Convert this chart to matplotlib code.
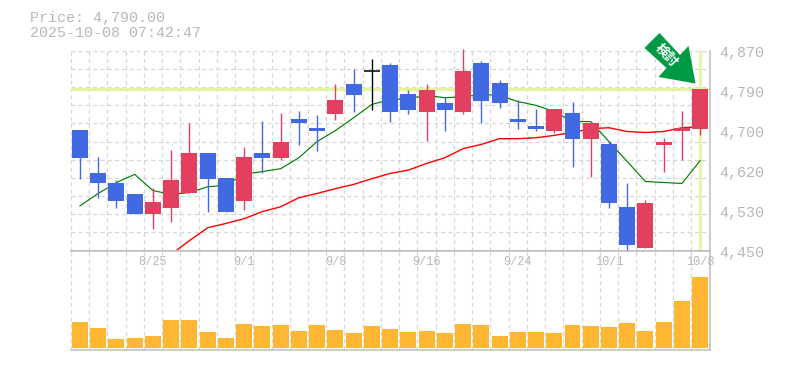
import numpy as np
import matplotlib
matplotlib.use("Agg")
import matplotlib.pyplot as plt
from matplotlib.patches import Polygon
from matplotlib.transforms import Affine2D

W, H = 785, 370

# daily prices
opens = [4704, 4614, 4593, 4568, 4526, 4540, 4572, 4654, 4603, 4555, 4654, 4645, 4727, 4708, 4736,
         4799, 4828, 4839, 4778, 4742, 4759, 4742, 4843, 4803, 4727, 4712, 4702, 4738, 4685, 4673,
         4542, 4456, 4671, 4702, 4706]
closes = [4645, 4591, 4555, 4526, 4553, 4599, 4654, 4601, 4532, 4647, 4645, 4679, 4717, 4702, 4767,
          4776, 4828, 4742, 4746, 4788, 4746, 4828, 4765, 4761, 4721, 4706, 4748, 4685, 4719, 4551,
          4461, 4549, 4679, 4708, 4790]
highs = [4704, 4647, 4599, 4568, 4582, 4662, 4719, 4654, 4603, 4668, 4723, 4738, 4744, 4734, 4799,
         4832, 4853, 4843, 4788, 4799, 4773, 4874, 4849, 4809, 4767, 4748, 4748, 4763, 4719, 4679,
         4593, 4557, 4687, 4744, 4790]
lows = [4601, 4561, 4540, 4526, 4496, 4511, 4572, 4532, 4532, 4536, 4612, 4641, 4671, 4660, 4725,
        4742, 4746, 4721, 4736, 4681, 4702, 4736, 4717, 4750, 4706, 4702, 4696, 4626, 4605, 4540,
        4450, 4456, 4616, 4641, 4692]
ma_short = [4544, 4570, 4593, 4610, 4576, 4568, 4572, 4584, 4587, 4610, 4616, 4622, 4645, 4679, 4702,
            4729, 4757, 4767, 4769, 4776, 4771, 4773, 4778, 4776, 4763, 4755, 4742, 4721, 4721, 4679,
            4637, 4595, 4593, 4591, 4639]
ma_long = [4442, 4471, 4498, 4507, 4517, 4532, 4542, 4561, 4570, 4580, 4589, 4601, 4612, 4619, 4633,
           4645, 4664, 4673, 4685, 4685, 4687, 4692, 4698, 4706, 4708, 4700, 4698, 4700, 4708, 4710]
volumes = [26, 20, 9, 10, 12, 28, 28, 16, 10, 24, 22, 23, 17, 23, 18, 15, 22, 19, 16, 17, 15, 24, 23,
           12, 16, 16, 15, 23, 22, 21, 25, 17, 26, 47, 71]

price_ticks = [4870, 4786, 4702, 4618, 4534, 4450]
price_labels = ["4,870", "4,790", "4,700", "4,620", "4,530", "4,450"]
date_pos = [4, 9, 14, 19, 24, 29, 34]
date_labels = ["8/25", "9/1", "9/8", "9/16", "9/24", "10/1", "10/8"]
last_price = 4790

BLUE, RED, ORANGE = "#4169e1", "#e34060", "#ffb733"
GRID, AXIS, TEXT, HILITE = "#d6d6d6", "#bdbdbd", "#b8b8b8", "#e3f5a5"


def box(left, top, right, bottom):
    return [left / W, 1 - bottom / H, (right - left) / W, (bottom - top) / H]


fig = plt.figure(figsize=(W / 100, H / 100), dpi=100)
ax = fig.add_axes(box(70.5, 50.6, 709.5, 250.6))
vol = fig.add_axes(box(70.5, 250.6, 709.5, 350))

x = np.arange(len(closes))
opens, closes = np.array(opens), np.array(closes)
colors = [BLUE if c < o else RED if c > o else "black" for o, c in zip(opens, closes)]

for a in (ax, vol):
    a.set_xlim(-0.52, 34.51)
    a.set_xticks(np.arange(-0.5, 34.5))
    a.tick_params(length=0, labelbottom=False, labelleft=False)
    a.set_axisbelow(True)
    a.grid(True, axis="x", color=GRID, lw=0.9, ls=(0, (3.2, 2.6)))
    for s in ("top", "left"):
        a.spines[s].set_visible(False)
    for s in ("right", "bottom"):
        a.spines[s].set_color(AXIS)
        a.spines[s].set_linewidth(1.1)

# price panel
ax.set_ylim(4450, 4870)
ax.set_yticks(np.linspace(4450, 4870, 12))
ax.grid(True, axis="y", color=GRID, lw=0.9, ls=(0, (3.2, 2.6)))
ax.axhline(last_price, color=HILITE, lw=2.4, zorder=1)
ax.plot([34, 34], [4456, 4870], color=HILITE, lw=2.0, zorder=1)

ax.plot(x, ma_short, color="#008000", lw=0.85, zorder=2)
ax.plot(x[5:], ma_long, color="#ff0000", lw=1.0, zorder=2, clip_on=False)

ax.vlines(x, lows, highs, colors=colors, lw=1.0, zorder=3, clip_on=False, snap=True)
ax.bar(x, closes - opens, bottom=opens, width=0.875, color=colors, zorder=4)
ax.hlines(closes[16], 15.55, 16.45, color="black", lw=1.1, zorder=4)

for val, lab in zip(price_ticks, price_labels):
    ax.annotate(lab, (1, val), xycoords=("axes fraction", "data"), xytext=(7.2, -1.8),
                textcoords="offset points", va="center", ha="left", color=TEXT,
                family="Liberation Mono", fontsize=10.8, annotation_clip=False)

# volume panel
vol.set_ylim(-2, 97)
vol.set_yticks([])
vol.bar(x, volumes, width=0.875, color=ORANGE, zorder=3)
for pos, lab in zip(date_pos, date_labels):
    vol.annotate(lab, (pos, 1), xycoords=("data", "axes fraction"), xytext=(0, -8),
                 textcoords="offset points", va="center", ha="center", color=TEXT,
                 family="Liberation Mono", fontsize=8.6, annotation_clip=False)
vol.spines["top"].set_visible(True)
vol.spines["top"].set_color(AXIS)
vol.spines["top"].set_linewidth(1.1)

# header
fig.text(30 / W, 1 - 18 / H, "Price: 4,790.00", color=TEXT, family="Liberation Mono",
         fontsize=10.8, va="center")
fig.text(30 / W, 1 - 33 / H, "2025-10-08 07:42:47", color=TEXT, family="Liberation Mono",
         fontsize=10.8, va="center")

# green arrow badge, pixel coords measured from the top left
flip = Affine2D().scale(1, -1).translate(0, H)
arrow = [(659.5, 33), (644.5, 48), (666.5, 68), (658.5, 77), (695.5, 83.5), (688.5, 46), (680, 55)]
fig.add_artist(Polygon(arrow, closed=True, facecolor="#009944", edgecolor="none",
                       transform=flip, zorder=6))
fig.text(666 / W, 1 - 55 / H, "検討", color="white", family=["Noto Sans CJK JP", "DejaVu Sans"],
         fontsize=9.5, fontweight="bold", rotation=-47, rotation_mode="anchor",
         ha="center", va="center", zorder=7)

fig.savefig("out.png", dpi=100)
